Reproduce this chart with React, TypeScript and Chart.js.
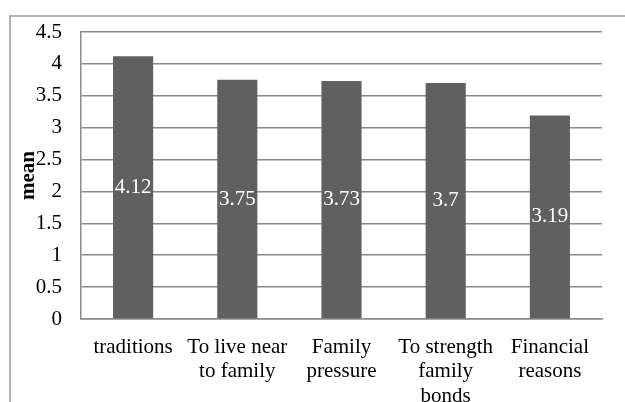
import React, { useEffect, useRef } from "react";
import { Chart, registerables } from "chart.js";

Chart.register(...registerables);

const categories: string[][] = [
  ["traditions"],
  ["To live near", "to family"],
  ["Family", "pressure"],
  ["To strength", "family", "bonds"],
  ["Financial", "reasons"],
];
const means: number[] = [4.12, 3.75, 3.73, 3.7, 3.19];
const meanLabels: string[] = ["4.12", "3.75", "3.73", "3.7", "3.19"];

const FONT = "'Liberation Serif', 'Times New Roman', serif";

const framePlugin = {
  id: "frame",
  beforeDraw(chart: any) {
    const ctx = chart.ctx;
    ctx.save();
    ctx.strokeStyle = "#9a9a9a";
    ctx.lineWidth = 1.5;
    ctx.beginPath();
    ctx.moveTo(2, chart.height + 5);
    ctx.lineTo(2, 8);
    ctx.lineTo(chart.width + 5, 8);
    ctx.stroke();
    ctx.restore();
  },
};

const labelPlugin = {
  id: "valueLabels",
  afterDatasetsDraw(chart: any) {
    const ctx = chart.ctx;
    const meta = chart.getDatasetMeta(0);
    ctx.save();
    ctx.fillStyle = "#ffffff";
    ctx.font = `21px ${FONT}`;
    ctx.textAlign = "center";
    ctx.textBaseline = "middle";
    meta.data.forEach((bar: any, i: number) => {
      const cy = (bar.y + bar.base) / 2;
      ctx.fillText(meanLabels[i], bar.x, cy);
    });
    ctx.restore();
  },
};

export default function App() {
  const ref = useRef<HTMLCanvasElement>(null);
  useEffect(() => {
    if (!ref.current) return;
    const chart = new Chart(ref.current, {
      type: "bar",
      data: {
        labels: categories,
        datasets: [
          {
            data: means,
            backgroundColor: "#606060",
            borderWidth: 0,
            categoryPercentage: 1,
            barPercentage: 0.385,
          },
        ],
      },
      options: {
        animation: false,
        responsive: false,
        devicePixelRatio: 1,
        layout: { padding: { left: 0, top: 24, right: 23, bottom: 0 } },
        plugins: { legend: { display: false }, tooltip: { enabled: false } },
        scales: {
          x: {
            grid: { display: false, drawTicks: false },
            border: { display: true, color: "#8a8a8a", width: 1.5 },
            ticks: {
              color: "#000",
              font: { family: FONT, size: 21, lineHeight: 1.17 },
              padding: 16,
              maxRotation: 0,
              autoSkip: false,
            },
            afterFit: (s: any) => {
              s.height = 83;
            },
          },
          y: {
            min: 0,
            max: 4.5,
            ticks: {
              stepSize: 0.5,
              color: "#000",
              font: { family: FONT, size: 21 },
              padding: 1,
              callback: (v: any) => String(Number(v)),
            },
            grid: {
              color: "#8a8a8a",
              lineWidth: 1.5,
              drawTicks: true,
              tickLength: 18,
              tickColor: "rgba(0,0,0,0)",
            },
            border: { display: true, color: "#8a8a8a", width: 1.5 },
            title: {
              display: true,
              text: "mean",
              color: "#000",
              font: { family: FONT, size: 21, weight: "bold" },
              padding: { top: 8, bottom: 0 },
            },
            afterFit: (s: any) => {
              s.width = 73;
            },
          },
        },
      },
      plugins: [framePlugin, labelPlugin],
    });
    return () => chart.destroy();
  }, []);
  return (
    <div style={{ position: "fixed", left: 8, top: 8, width: 617, height: 394 }}>
      <canvas ref={ref} width={617} height={394} style={{ width: 617, height: 394, display: "block" }} />
    </div>
  );
}
